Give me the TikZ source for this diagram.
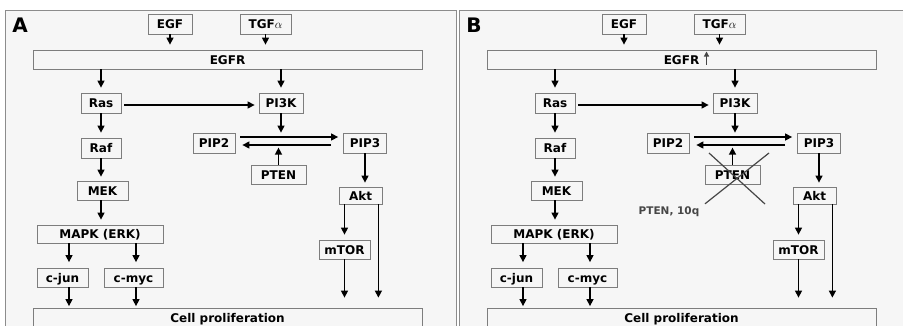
\documentclass[tikz,border=0pt]{standalone}
\usepackage{fontspec}
\setmainfont{DejaVu Sans}
\usepackage{tikz}
\usetikzlibrary{arrows.meta,calc}
\definecolor{boxgrey}{RGB}{125,125,125}
\definecolor{panelgrey}{RGB}{140,140,140}
\definecolor{panelbg}{RGB}{246,246,246}
\definecolor{crossgrey}{RGB}{70,70,70}

\begin{document}
\begin{tikzpicture}[x=1pt,y=-1pt,>={Triangle[length=7pt,width=7pt]},line width=1.4pt,
  mol/.style={draw=boxgrey,line width=0.8pt,inner sep=0pt,minimum height=20pt,
    text height=9pt,text depth=0pt,font=\fontsize{12}{13}\selectfont\bfseries},
  panel/.style={draw=panelgrey,line width=0.8pt,fill=panelbg},
  panellbl/.style={font=\fontsize{20}{20}\selectfont\bfseries,inner sep=0pt},
  uparr/.style={draw=crossgrey,line width=1.2pt,-{Triangle[length=5pt,width=5pt]}},
  cross/.style={draw=crossgrey,line width=1.2pt},
  lossnote/.style={text=crossgrey,inner sep=1pt,text height=9pt,text depth=0pt,
    font=\fontsize{10.5}{12}\selectfont\bfseries}]
  \useasboundingbox (0,0) rectangle (903,325);
  \clip (0,0) rectangle (903,325);
  \foreach \p/\dx in {A/0,B/454}{
  \begin{scope}[xshift=\dx pt]
    % frame and panel letter
    \draw[panel] (5,10) rectangle (456,340);
    \node[panellbl] (lbl\p) at (20,25) {\p};
    % ligands and receptor
    \node[mol,minimum width=44pt] (egf\p) at (170,24) {EGF};
    \node[mol,minimum width=51pt] (tgf\p) at (265.5,24) {TGF$\alpha$};
    \node[mol,minimum width=389pt,minimum height=19pt] (egfr\p) at (227.5,59.5) {EGFR};
    % MAPK branch
    \node[mol,minimum width=40pt] (ras\p) at (101,103) {Ras};
    \node[mol,minimum width=40pt] (raf\p) at (101,148) {Raf};
    \node[mol,minimum width=51pt,minimum height=19pt] (mek\p) at (102.5,190.5) {MEK};
    \node[mol,minimum width=126pt,minimum height=18pt] (mapk\p) at (100,234) {MAPK (ERK)};
    \node[mol,minimum width=51pt,minimum height=19pt] (cjun\p) at (62.5,277.5) {c-jun};
    \node[mol,minimum width=59pt,minimum height=19pt] (cmyc\p) at (133.5,277.5) {c-myc};
    % PI3K branch
    \node[mol,minimum width=44pt] (pi3k\p) at (281,103) {PI3K};
    \node[mol,minimum width=42pt] (pip2\p) at (214,143) {PIP2};
    \node[mol,minimum width=43pt] (pip3\p) at (365,143) {PIP3};
    \node[mol,minimum width=55pt,minimum height=19pt] (pten\p) at (278.5,174.5) {PTEN};
    \node[mol,minimum width=43pt,minimum height=17pt] (akt\p) at (360.5,195.5) {Akt};
    \node[mol,minimum width=51pt,minimum height=19pt] (mtor\p) at (344.5,249.5) {mTOR};
    \node[mol,minimum width=389pt] (cell\p) at (227.5,318) {Cell proliferation};
    % arrows
    \draw[->,shorten >=5pt] (egf\p.south) -- (egf\p.south |- egfr\p.north);
    \draw[->,shorten >=5pt] (tgf\p.south) -- (tgf\p.south |- egfr\p.north);
    \draw[->,shorten >=5pt] (ras\p.north |- egfr\p.south) -- (ras\p.north);
    \draw[->,shorten >=5pt] (pi3k\p.north |- egfr\p.south) -- (pi3k\p.north);
    \draw[->,shorten <=3pt,shorten >=4pt] ($(ras\p.east)+(0,2)$) -- ($(pi3k\p.west)+(0,2)$);
    \draw[->,shorten >=5pt] (ras\p.south) -- (raf\p.north);
    \draw[->,shorten >=4pt] (raf\p.south) -- (raf\p.south |- mek\p.north);
    \draw[->,shorten >=5pt] (raf\p.south |- mek\p.south) -- (raf\p.south |- mapk\p.north);
    \coordinate (jun\p) at ($(cjun\p.north)+(6.5,0)$);
    \coordinate (myc\p) at ($(cmyc\p.north)+(2.5,0)$);
    \draw[->,shorten >=5.5pt] (jun\p |- mapk\p.south) -- (jun\p);
    \draw[->,shorten >=5.5pt] (myc\p |- mapk\p.south) -- (myc\p);
    \draw[->,shorten >=1.5pt] (jun\p |- cjun\p.south) -- (jun\p |- cell\p.north);
    \draw[->,shorten >=1.5pt] (myc\p |- cmyc\p.south) -- (myc\p |- cell\p.north);
    \draw[->] (pi3k\p.south) -- (pi3k\p.south |- pip2\p.north);
    \draw[->,shorten <=5pt,shorten >=5pt] ($(pip2\p.east)+(0,-6)$) -- ($(pip3\p.west)+(0,-6)$);
    \draw[->,shorten <=12pt,shorten >=7pt] ($(pip3\p.west)+(0,2)$) -- ($(pip2\p.east)+(0,2)$);
    \draw[->] (pten\p.north) -- ++(0,-17);
    \draw[->,shorten >=4pt] (pip3\p.south) -- (pip3\p.south |- akt\p.north);
    \draw[->,shorten >=5pt] (mtor\p.north |- akt\p.south) -- (mtor\p.north);
    \draw[->,shorten >=10pt] (mtor\p.south) -- (mtor\p.south |- cell\p.north);
    \coordinate (aktr\p) at ($(akt\p.south east)+(-4,0)$);
    \draw[->,shorten >=10pt] (aktr\p) -- (aktr\p |- cell\p.north);
  \end{scope}}
  % panel B: EGFR up, PTEN lost
  \draw[uparr] ($(egfrB.center)+(25,5)$) -- ++(0,-13);
  \draw[cross] ($(ptenB)+(-23.5,-21.5)$) -- ($(ptenB)+(32.5,29.5)$);
  \node[lossnote,anchor=east] (loss) at (701,210) {PTEN, 10q};
  \draw[cross] ($(ptenB)+(36.5,-21.5)$) -- ($(loss.north east)+(4,0)$);
\end{tikzpicture}
\end{document}
